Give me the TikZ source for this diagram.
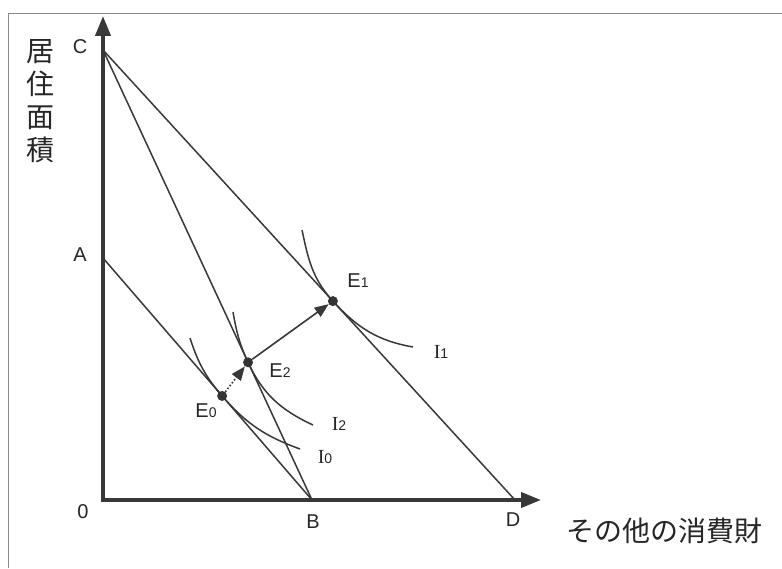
\documentclass[tikz,border=0pt]{standalone}
\usepackage{fontspec}
\setmainfont{Liberation Sans}
\newfontfamily\jpfont{Noto Sans CJK JP}
\newfontfamily\serifI{Liberation Serif}
\usetikzlibrary{arrows.meta,calc}
\newcommand{\dgt}[1]{{\fontsize{14}{14}\selectfont #1}}
\newcommand{\curveI}{{\serifI I}}

\begin{document}
\begin{tikzpicture}[x=1pt,y=1pt,
    axis/.style={line width=4pt, draw=black!78, line join=miter},
    budget/.style={line width=1.5pt, draw=black!78},
    indiff/.style={line width=1.5pt, draw=black!78},
    move/.style={line width=1.6pt, draw=black!78, -{Triangle[length=14pt,width=11pt]}},
    eqdot/.style={circle, fill=black!80, inner sep=0pt, minimum size=10pt},
    lbl/.style={font=\fontsize{20}{20}\selectfont, text=black!85, inner sep=0pt},
    jplbl/.style={font=\jpfont\fontsize{28}{33}\selectfont, text=black!85, inner sep=0pt}]
    \useasboundingbox (0,0) rectangle (782,568);
    % Frame
    \draw[black!45, line width=1pt] (8,0) -- (8,554) -- (782,554);
    % Points
    \coordinate (O) at (103,68);
    \coordinate (A) at (103,310);
    \coordinate (C) at (103,518);
    \coordinate (B) at (312,68);
    \coordinate (D) at (515,68);
    \coordinate (ytip) at (103,552);
    \coordinate (xtip) at (541,68);
    \coordinate (E0) at ($(A)!0.57!(B)$);
    \coordinate (E2) at ($(C)!0.694!(B)$);
    \coordinate (E1) at ($(C)!0.558!(D)$);
    % Budget lines
    \draw[budget] (A) -- (B);
    \draw[budget] (C) -- (B);
    \draw[budget] (C) -- (D);
    % Indifference curves
    \draw[indiff] (190,230) to[out=-72,in=130.8] (E0) to[out=-49.2,in=160] (300,119);
    \draw[indiff] (233,256) to[out=-80,in=114.9] (E2) to[out=-65.1,in=155] (313,143);
    \draw[indiff] (302,338) to[out=-78,in=132.5] (E1) to[out=-47.5,in=170] (413,221);
    % Axes
    \draw[axis, {Triangle[length=20pt,width=15pt]}-{Triangle[length=20pt,width=15pt]}] (ytip) -- (O) -- (xtip);
    % Equilibria
    \node[eqdot] (e0) at (E0) {};
    \node[eqdot] (e2) at (E2) {};
    \node[eqdot] (e1) at (E1) {};
    \draw[move, dotted] (e0) -- (e2);
    \draw[move] (e2) -- (e1);
    % Labels
    \node[lbl] (labC) at (80,521) {C};
    \node[lbl] (labA) at (80,313) {A};
    \node[lbl] (lab0) at (83,56) {0};
    \node[lbl] (labB) at (313,46) {B};
    \node[lbl] (labD) at (513,48) {D};
    \node[lbl] (labE1) at (358,287) {E\dgt{1}};
    \node[lbl] (labI1) at (441,216) {\curveI\dgt{1}};
    \node[lbl] (labE2) at (280,197) {E\dgt{2}};
    \node[lbl] (labI2) at (339,144) {\curveI\dgt{2}};
    \node[lbl] (labE0) at (206,157) {E\dgt{0}};
    \node[lbl] (labI0) at (325,111) {\curveI\dgt{0}};
    \node[jplbl, align=center] (ylab) at (40,467) {居\\住\\面\\積};
    \node[jplbl] (xlab) at (664,37) {その他の消費財};
\end{tikzpicture}
\end{document}
